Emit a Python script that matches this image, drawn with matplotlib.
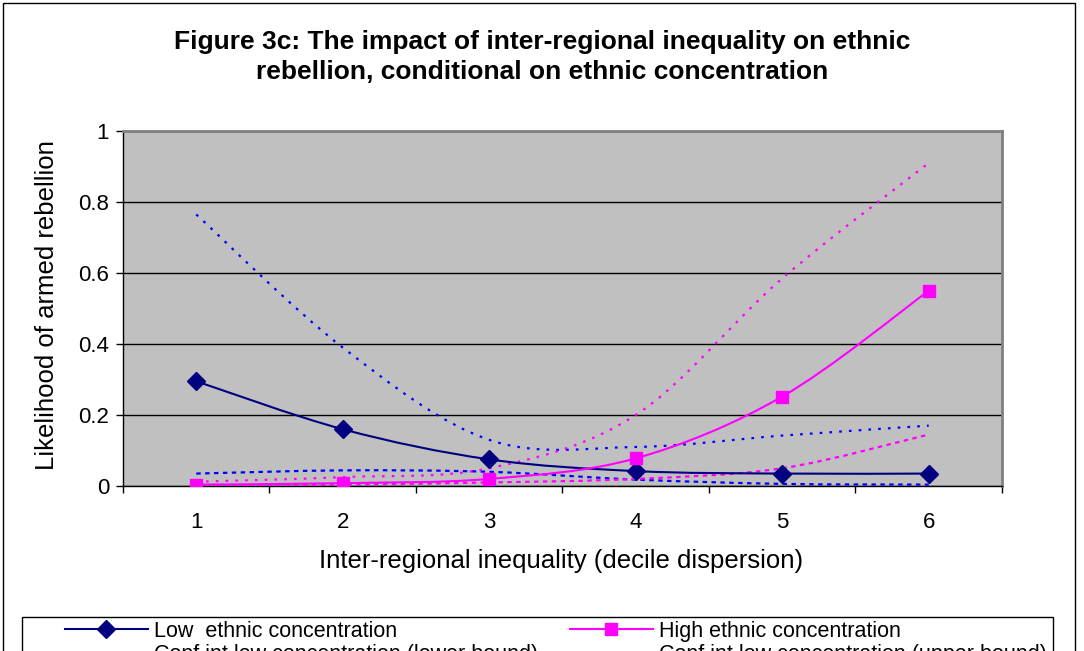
import numpy as np
import matplotlib
matplotlib.use("Agg")
import matplotlib.pyplot as plt
from matplotlib.path import Path
from matplotlib.patches import PathPatch, Rectangle
from matplotlib.lines import Line2D

plt.rcParams['font.family'] = ['Liberation Sans', 'DejaVu Sans']

# inter-regional inequality deciles
x_vals = [1, 2, 3, 4, 5, 6]

# predicted probabilities of rebellion
low_conc = [0.295, 0.160, 0.075, 0.042, 0.035, 0.035]
high_conc = [0.004, 0.008, 0.020, 0.078, 0.252, 0.550]

# confidence bounds
low_upper = [0.765, 0.390, 0.130, 0.110, 0.142, 0.170]
low_lower = [0.035, 0.044, 0.040, 0.018, 0.006, 0.004]
high_upper = [0.012, 0.025, 0.050, 0.200, 0.585, 0.910]
high_lower = [0.001, 0.004, 0.010, 0.020, 0.050, 0.145]

title = ("Figure 3c: The impact of inter-regional inequality on ethnic\n"
         "rebellion, conditional on ethnic concentration")
left_labels = ["Low  ethnic concentration",
               "Conf int low concentration (lower bound)",
               "Conf int high concentration (lower bound)"]
right_labels = ["High ethnic concentration",
                "Conf int low concentration (upper bound)",
                "Conf int high concentration (upper bound)"]

NAVY = '#000080'
BLUE = '#0000FF'
MAGENTA = '#FF00FF'
UPPER_DASH = (0, (1.2, 3.2))
LOWER_DASH = (0, (2.0, 2.0))


def smooth_path(xs, ys):
    # Catmull-Rom style bezier segments, like a spreadsheet "smoothed line"
    pts = np.column_stack([xs, ys]).astype(float)
    n = len(pts)
    verts = [pts[0]]
    codes = [Path.MOVETO]
    for i in range(n - 1):
        p0 = pts[max(i - 1, 0)]
        p1 = pts[i]
        p2 = pts[i + 1]
        p3 = pts[min(i + 2, n - 1)]
        c1 = p1 + (p2 - p0) / 6.0
        c2 = p2 - (p3 - p1) / 6.0
        verts += [c1, c2, p2]
        codes += [Path.CURVE4] * 3
    return Path(verts, codes)


def draw_series(ax, ys, color, lw, ls, marker=None, ms=0):
    patch = PathPatch(smooth_path(x_vals, ys), facecolor='none',
                      edgecolor=color, lw=lw, linestyle=ls, zorder=3)
    ax.add_patch(patch)
    if marker:
        ax.plot(x_vals, ys, linestyle='none', marker=marker, ms=ms,
                color=color, zorder=4)


fig = plt.figure(figsize=(10.84, 6.51), dpi=100)
ax = fig.add_axes([123 / 1084, 1 - 486 / 651, 879 / 1084, 355 / 651])
ax.set_facecolor('#C0C0C0')
ax.set_xlim(0.5, 6.5)
ax.set_ylim(0, 1)

ax.set_yticks([0, 0.2, 0.4, 0.6, 0.8, 1])
ax.set_yticklabels(['0', '0.2', '0.4', '0.6', '0.8', '1'], fontsize=16)
ax.set_xticks(x_vals)
ax.set_xticklabels([str(v) for v in x_vals], fontsize=16)
ax.set_xticks(np.arange(0.5, 7.0, 1.0), minor=True)
ax.tick_params(axis='x', which='major', length=0, pad=19)
ax.tick_params(axis='x', which='minor', length=5, width=1, direction='out')
ax.tick_params(axis='y', length=5, width=1, direction='out', pad=5)
ax.yaxis.grid(True, color='black', lw=1)
ax.set_axisbelow(True)

for side in ('top', 'right'):
    ax.spines[side].set_color('#808080')
    ax.spines[side].set_linewidth(2)
for side in ('left', 'bottom'):
    ax.spines[side].set_color('black')
    ax.spines[side].set_linewidth(1)

draw_series(ax, low_upper, BLUE, 1.6, UPPER_DASH)
draw_series(ax, low_lower, BLUE, 1.6, LOWER_DASH)
draw_series(ax, high_upper, MAGENTA, 1.6, UPPER_DASH)
draw_series(ax, high_lower, MAGENTA, 1.6, LOWER_DASH)
draw_series(ax, low_conc, NAVY, 1.5, '-', marker='D', ms=9)
draw_series(ax, high_conc, MAGENTA, 1.5, '-', marker='s', ms=9)

fig.text(542 / 1084, 1 - 57 / 651, title, ha='center', va='center',
         fontsize=19, fontweight='bold', linespacing=1.32)
fig.text(47 / 1084, 1 - 305 / 651, 'Likelihood of armed rebellion',
         rotation=90, ha='center', va='center', fontsize=18.5)
fig.text(561 / 1084, 1 - 561 / 651, 'Inter-regional inequality (decile dispersion)',
         ha='center', va='center', fontsize=18.5)

left_handles = [
    Line2D([], [], color=NAVY, lw=1.5, marker='D', ms=9),
    Line2D([], [], color=BLUE, lw=1.6, linestyle=LOWER_DASH),
    Line2D([], [], color=MAGENTA, lw=1.6, linestyle=LOWER_DASH),
]
right_handles = [
    Line2D([], [], color=MAGENTA, lw=1.5, marker='s', ms=9),
    Line2D([], [], color=BLUE, lw=1.6, linestyle=UPPER_DASH),
    Line2D([], [], color=MAGENTA, lw=1.6, linestyle=UPPER_DASH),
]

# two legend columns share one frame drawn below
for handles, labels, x0 in ((left_handles, left_labels, 65),
                            (right_handles, right_labels, 570)):
    fig.legend(handles, labels, loc='upper left',
               bbox_to_anchor=(x0 / 1084, 1 - 621 / 651),
               fontsize=15.5, frameon=False, handlelength=3.85,
               handletextpad=0.3, borderpad=0, borderaxespad=0,
               labelspacing=0.1)

fig.patches.append(Rectangle((22 / 1084, -0.1), 1031 / 1084, 0.1 + 1 - 617 / 651,
                             transform=fig.transFigure, fill=True,
                             facecolor='white', edgecolor='black', lw=1,
                             zorder=0))

# outer chart border
fig.patches.append(Rectangle((3 / 1084, -0.1), 1072 / 1084, 1.1 - 3 / 651,
                             transform=fig.transFigure, fill=False,
                             edgecolor='black', lw=1))

fig.savefig('out.png', dpi=100)
